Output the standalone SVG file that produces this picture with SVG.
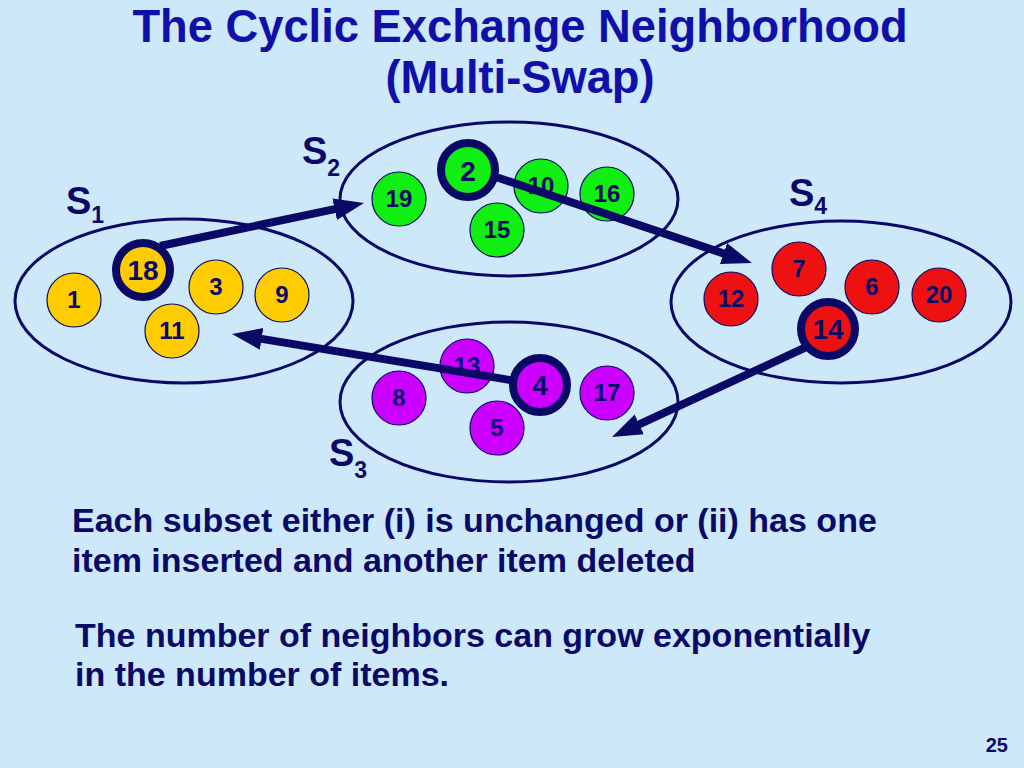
<svg xmlns="http://www.w3.org/2000/svg" width="1024" height="768" viewBox="0 0 1024 768">
<defs>
<style>
.title{font-family:"Liberation Sans",Arial,sans-serif;font-weight:bold;font-size:45.3px;fill:#1010A8;text-anchor:middle}
.body{font-family:"Liberation Sans",Arial,sans-serif;font-weight:bold;font-size:34px;fill:#0A0A66}
.set{fill:none;stroke:#0A0A66;stroke-width:3}
.lbl{font-family:"Liberation Sans",Arial,sans-serif;font-weight:bold;font-size:38px;fill:#0A0A66}
.sub{font-size:23px}
.num{font-family:"Liberation Sans",Arial,sans-serif;font-weight:bold;font-size:24px;fill:#0A0A66;text-anchor:middle}
.big{font-size:28px}
.c{stroke:#0A0A66;stroke-width:1.2}
.sel{stroke:#0A0A66;stroke-width:8}
.y{fill:#FFCC00}.g{fill:#11EE11}.r{fill:#EE1111}.m{fill:#CC00FF}
.arr{stroke:#0A0A66;stroke-width:8;fill:none;marker-end:url(#ah)}
.pg{font-family:"Liberation Sans",Arial,sans-serif;font-weight:bold;font-size:20px;fill:#0A0A66;text-anchor:end}
</style>
<marker id="ah" markerUnits="userSpaceOnUse" markerWidth="32" markerHeight="24" refX="6" refY="11" orient="auto">
<path d="M0,0 L30,11 L0,22 z" fill="#0A0A66"/>
</marker>
</defs>
<rect width="1024" height="768" fill="#CDE8F9"/>
<text class="title" x="520" y="42">The Cyclic Exchange Neighborhood</text>
<text class="title" x="520" y="93">(Multi-Swap)</text>

<g id="S1">
<ellipse class="set" cx="184" cy="301" rx="169" ry="82"/>
<text class="lbl" x="66" y="214">S<tspan class="sub" dy="9">1</tspan></text>
</g>
<g id="S2">
<ellipse class="set" cx="509" cy="199" rx="169" ry="77"/>
<text class="lbl" x="302" y="164">S<tspan class="sub" dy="12">2</tspan></text>
</g>
<g id="S3">
<ellipse class="set" cx="509" cy="402" rx="169" ry="80"/>
<text class="lbl" x="329" y="466">S<tspan class="sub" dy="12">3</tspan></text>
</g>
<g id="S4">
<ellipse class="set" cx="841" cy="302" rx="170" ry="81"/>
<text class="lbl" x="789" y="206">S<tspan class="sub" dy="8">4</tspan></text>
</g>

<g id="n1"><circle class="c y" cx="74" cy="300" r="27"/><text class="num" x="74" y="308">1</text></g>
<g id="n3"><circle class="c y" cx="216" cy="287" r="27"/><text class="num" x="216" y="295">3</text></g>
<g id="n9"><circle class="c y" cx="282" cy="295" r="27"/><text class="num" x="282" y="303">9</text></g>
<g id="n11"><circle class="c y" cx="172" cy="331" r="27"/><text class="num" x="172" y="339">11</text></g>
<g id="n19"><circle class="c g" cx="399" cy="199" r="27"/><text class="num" x="399" y="207">19</text></g>
<g id="n10"><circle class="c g" cx="541" cy="186" r="27"/><text class="num" x="541" y="194">10</text></g>
<g id="n16"><circle class="c g" cx="607" cy="194" r="27"/><text class="num" x="607" y="202">16</text></g>
<g id="n15"><circle class="c g" cx="497" cy="230" r="27"/><text class="num" x="497" y="238">15</text></g>
<g id="n7"><circle class="c r" cx="799" cy="269" r="27"/><text class="num" x="799" y="277">7</text></g>
<g id="n12"><circle class="c r" cx="731" cy="299" r="27"/><text class="num" x="731" y="307">12</text></g>
<g id="n6"><circle class="c r" cx="872" cy="287" r="27"/><text class="num" x="872" y="295">6</text></g>
<g id="n20"><circle class="c r" cx="939" cy="295" r="27"/><text class="num" x="939" y="303">20</text></g>
<g id="n8"><circle class="c m" cx="399" cy="398" r="27"/><text class="num" x="399" y="406">8</text></g>
<g id="n13"><circle class="c m" cx="467" cy="366" r="27"/><text class="num" x="467" y="374">13</text></g>
<g id="n17"><circle class="c m" cx="607" cy="393" r="27"/><text class="num" x="607" y="401">17</text></g>
<g id="n5"><circle class="c m" cx="497" cy="428" r="27"/><text class="num" x="497" y="436">5</text></g>

<g id="connectors">
<path class="arr" d="M160,246 L340.5,207.9"/>
<path class="arr" d="M490,175 L729.2,255.4"/>
<path class="arr" d="M815,343 L633.8,426.9"/>
<path class="arr" d="M522,382 L255.7,337.9"/>
</g>

<g id="n18"><circle class="sel y" cx="143" cy="270" r="27"/><text class="num big" x="143" y="280">18</text></g>
<g id="n2"><circle class="sel g" cx="468" cy="170" r="27"/><text class="num big" x="468" y="181">2</text></g>
<g id="n14"><circle class="sel r" cx="828" cy="329" r="27"/><text class="num big" x="828" y="339">14</text></g>
<g id="n4"><circle class="sel m" cx="540" cy="385" r="27"/><text class="num big" x="540" y="395">4</text></g>

<text class="body" x="72" y="532">Each subset either (i) is unchanged or (ii) has one</text>
<text class="body" x="72" y="572">item inserted and another item deleted</text>
<text class="body" x="75" y="647">The number of neighbors can grow exponentially</text>
<text class="body" x="75" y="686">in the number of items.</text>
<text class="pg" x="1008" y="752">25</text>
</svg>
